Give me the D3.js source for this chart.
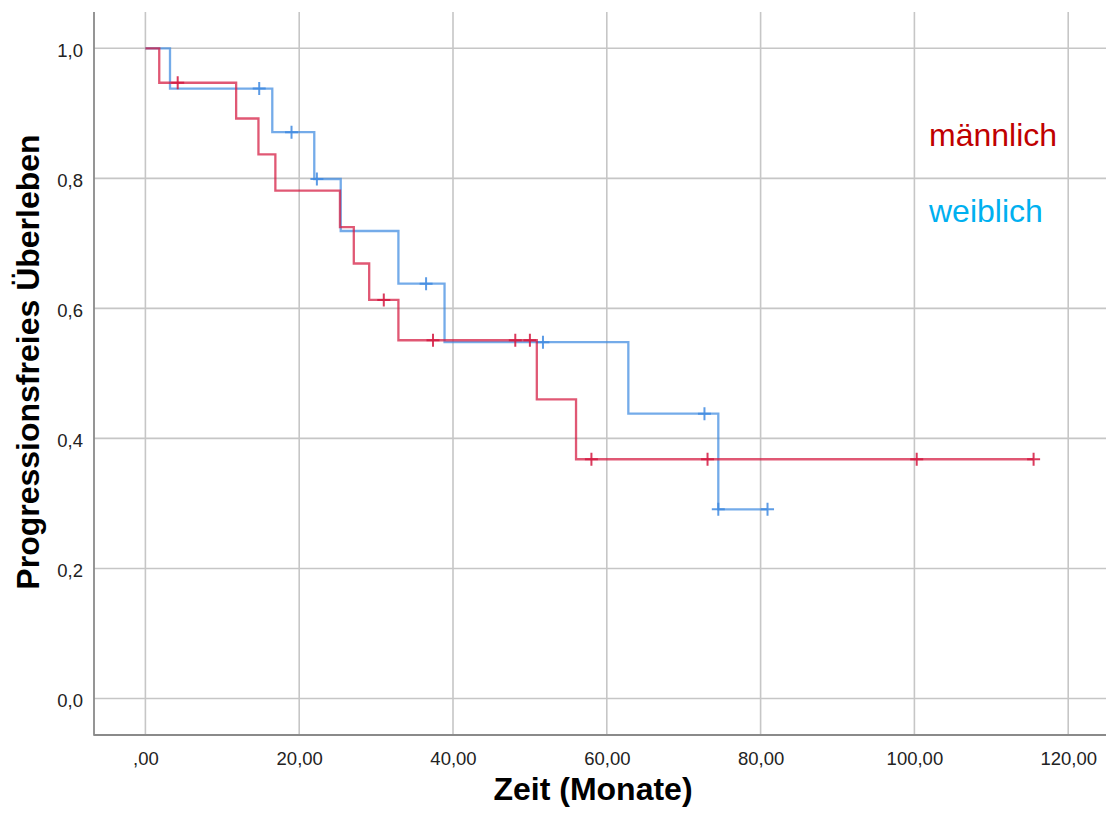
<!DOCTYPE html>
<html>
<head>
<meta charset="utf-8">
<script src="https://cdn.jsdelivr.net/npm/d3@7"></script>
<style>
html,body{margin:0;padding:0;background:#fff;}
svg{display:block;font-family:"Liberation Sans",Arial,sans-serif;}
</style>
</head>
<body>
<svg id="chart" width="1106" height="818"></svg>
<script>
// ---- data ----
const xTicks = [0, 20, 40, 60, 80, 100, 120];
const xTickLabels = [",00", "20,00", "40,00", "60,00", "80,00", "100,00", "120,00"];
const yTicks = [0, 0.2, 0.4, 0.6, 0.8, 1.0];
const yTickLabels = ["0,0", "0,2", "0,4", "0,6", "0,8", "1,0"];

const maleEventTimes = [1.8, 11.8, 14.7, 16.9, 25.3, 27.1, 29.1, 32.9, 50.9, 56.0];
const maleSurvival   = [0.947, 0.892, 0.837, 0.781, 0.725, 0.669, 0.613, 0.551, 0.460, 0.368];
const maleCensored   = [4.2, 31.0, 37.4, 48.1, 50.0, 58.0, 73.1, 100.3, 115.5];

const femaleEventTimes = [3.2, 16.5, 21.96, 25.4, 32.9, 38.9, 62.8, 74.5];
const femaleSurvival   = [0.938, 0.871, 0.799, 0.719, 0.638, 0.548, 0.438, 0.291];
const femaleCensored   = [14.8, 19.0, 22.3, 36.5, 51.7, 72.7, 74.5, 80.9];

const seriesNames = ["männlich", "weiblich"];

// ---- layout ----
const svg = d3.select("#chart");
const x = d3.scaleLinear().domain([0, 120]).range([145.4, 1068.2]);
const y = d3.scaleLinear().domain([0, 1]).range([698.5, 48.3]);
const plotLeft = 94, plotRight = 1106, plotTop = 12, plotBottom = 735;

// grid
const grid = svg.append("g");
grid.selectAll("line.v").data(xTicks).join("line")
  .attr("x1", d => x(d)).attr("x2", d => x(d))
  .attr("y1", plotTop).attr("y2", plotBottom)
  .attr("stroke", "#c6c6c6").attr("stroke-width", 1.6);
grid.selectAll("line.h").data(yTicks).join("line")
  .attr("x1", plotLeft).attr("x2", plotRight)
  .attr("y1", d => y(d)).attr("y2", d => y(d))
  .attr("stroke", "#c6c6c6").attr("stroke-width", 1.6);

// axes lines
svg.append("line").attr("x1", plotLeft).attr("x2", plotLeft)
  .attr("y1", plotTop).attr("y2", plotBottom + 0.8)
  .attr("stroke", "#8a8a8a").attr("stroke-width", 1.8);
svg.append("line").attr("x1", plotLeft).attr("x2", plotRight)
  .attr("y1", plotBottom).attr("y2", plotBottom)
  .attr("stroke", "#8a8a8a").attr("stroke-width", 1.8);

// tick labels via d3 axes (no tick lines)
const xAxis = d3.axisBottom(x).tickValues(xTicks)
  .tickFormat((d, i) => xTickLabels[i]).tickSize(0).tickPadding(0);
const gx = svg.append("g").attr("transform", `translate(0,${plotBottom})`).call(xAxis);
gx.select(".domain").remove();
gx.selectAll("text").attr("font-size", 18.5).attr("fill", "#222")
  .attr("font-family", "Liberation Sans, Arial, sans-serif")
  .attr("dy", null).attr("y", 29.5);

const yAxis = d3.axisLeft(y).tickValues(yTicks)
  .tickFormat((d, i) => yTickLabels[i]).tickSize(0).tickPadding(0);
const gy = svg.append("g").attr("transform", `translate(83,0)`).call(yAxis);
gy.select(".domain").remove();
gy.selectAll("text").attr("font-size", 18.5).attr("fill", "#222")
  .attr("font-family", "Liberation Sans, Arial, sans-serif")
  .attr("x", 0).attr("dy", "0.45em");

// axis titles
svg.append("text").attr("x", 593).attr("y", 800)
  .attr("text-anchor", "middle").attr("font-weight", "bold")
  .attr("font-size", 32).attr("fill", "#000").text("Zeit (Monate)");
svg.append("text").attr("transform", "translate(39,362) rotate(-90)")
  .attr("text-anchor", "middle").attr("font-weight", "bold")
  .attr("font-size", 32).attr("fill", "#000").text("Progressionsfreies Überleben");

// step functions
function stepPoints(times, surv, censored) {
  const end = Math.max(d3.max(times), d3.max(censored));
  const pts = [[0, 1]];
  let cur = 1;
  times.forEach((t, i) => { pts.push([t, cur]); cur = surv[i]; pts.push([t, cur]); });
  pts.push([end, cur]);
  return pts;
}
function survAt(times, surv, t) {
  let s = 1;
  times.forEach((et, i) => { if (et <= t) s = surv[i]; });
  return s;
}

const series = [
  { name: seriesNames[0], times: maleEventTimes, surv: maleSurvival, cens: maleCensored, color: "#d4173f" },
  { name: seriesNames[1], times: femaleEventTimes, surv: femaleSurvival, cens: femaleCensored, color: "#3f8ae0" }
];

const line = d3.line().x(d => x(d[0])).y(d => y(d[1]));

[series[1], series[0]].forEach(s => {
  const g = svg.append("g");
  g.append("path").attr("d", line(stepPoints(s.times, s.surv, s.cens)))
    .attr("fill", "none").attr("stroke", s.color).attr("stroke-width", 2.3)
    .attr("stroke-opacity", 0.72);
  const cs = 6.5;
  g.selectAll("path.c").data(s.cens).join("path")
    .attr("d", t => {
      const cx = x(t), cy = y(survAt(s.times, s.surv, t));
      return `M${cx - cs},${cy}H${cx + cs}M${cx},${cy - cs}V${cy + cs}`;
    })
    .attr("fill", "none").attr("stroke", s.color).attr("stroke-width", 2)
    .attr("stroke-opacity", 0.85);
});

// legend labels
svg.append("text").attr("x", 929).attr("y", 145.5).attr("font-size", 32)
  .attr("fill", "#c00000").text(seriesNames[0]);
svg.append("text").attr("x", 929).attr("y", 221.5).attr("font-size", 32)
  .attr("fill", "#00b0f0").text(seriesNames[1]);
</script>
</body>
</html>
